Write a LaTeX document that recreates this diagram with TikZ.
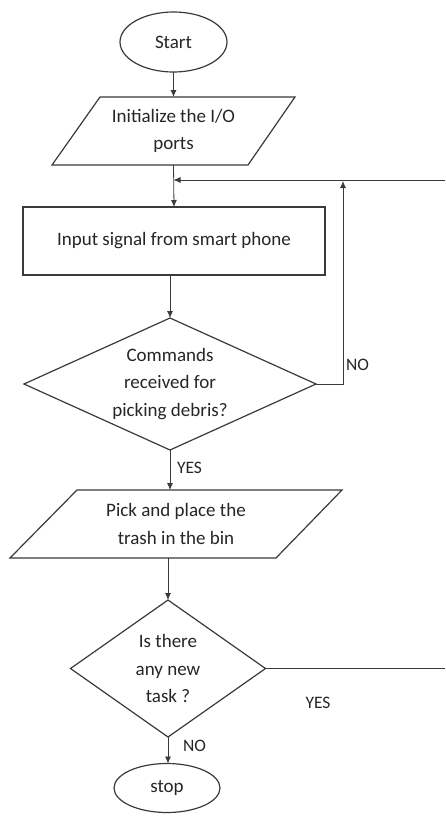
\documentclass[tikz,border=0pt]{standalone}
\usepackage{fontspec}
\setmainfont{Carlito}
\usetikzlibrary{shapes.geometric,arrows.meta}
\definecolor{ink}{HTML}{262626}
\definecolor{lineink}{HTML}{3A3A3A}
\tikzset{
  every node/.style={font=\fontsize{19}{27.5}\selectfont, text=ink, inner sep=0pt, outer sep=0pt},
  terminal/.style={ellipse, draw=lineink, line width=1.2pt},
  procbox/.style={rectangle, draw=lineink, line width=1.2pt},
  iobox/.style={rectangle, draw=none, align=center},
  decision/.style={rectangle, draw=none, align=center},
  shapeline/.style={draw=lineink, line width=1.2pt, line join=miter},
  flow/.style={draw=lineink, line width=0.8pt, -{Latex[length=7pt,width=6pt]}},
  plain/.style={draw=lineink, line width=0.8pt},
  lbl/.style={font=\fontsize{17.5}{20}\selectfont}
}
\begin{document}
\begin{tikzpicture}[x=1pt,y=-1pt]
\useasboundingbox[fill=white] (0,0) rectangle (445,816);

% Start
\node[terminal, minimum width=107pt, minimum height=60pt] (start) at (173.5,42) {Start};

% Parallelogram 1
\node[iobox, minimum width=195pt, minimum height=68pt] (p1) at (173.5,131) {Initialize the I/O\\ports};
\draw[shapeline] (100,97) -- (295,97) -- (248,165) -- (52,165) -- cycle;

% Process box
\node[procbox, minimum width=302pt, minimum height=68pt] (box) at (174,241) {Input signal from smart phone};

% Decision 1
\node[decision, minimum width=292pt, minimum height=132pt] (d1) at (170,384) {Commands\\received for\\picking debris?};
\draw[shapeline] (d1.north) -- (d1.east) -- (d1.south) -- (d1.west) -- cycle;

% Parallelogram 2
\node[iobox, minimum width=265pt, minimum height=68pt] (p2) at (176,524) {Pick and place the\\trash in the bin};
\draw[shapeline] (77,490) -- (342,490) -- (276,558) -- (10,558) -- cycle;

% Decision 2
\node[decision, minimum width=195pt, minimum height=137pt] (d2) at (168,668.5) {Is there\\any new\\task ?};
\draw[shapeline] (d2.north) -- (d2.east) -- (d2.south) -- (d2.west) -- cycle;

% Stop
\node[terminal, minimum width=106pt, minimum height=49pt] (stop) at (167,788) {stop};

% helper coordinates
\coordinate (j) at (173.5,180);
\coordinate (e1) at (445,180);
\coordinate (e2) at (445,668.5);
\coordinate (notop) at (343,181);

% connectors
\draw[flow] (start.south) -- (p1.north);
\draw[flow] (p1.south) -- (box.north);
\draw[flow] (box.south -| d1.north) -- (d1.north);
\draw[flow] (d1.south) -- (d1.south |- p2.north) node[pos=0.45, right=7pt, lbl] {YES};
\draw[flow] (d1.east) -| (notop);
\node[lbl, anchor=west] (nolbl) at (346,365) {NO};
\draw[flow] (e1) -- (j);
\draw[flow] (p2.south -| d2.north) -- (d2.north);
\draw[plain] (d2.east) -- (e2);
\node[lbl] (yes2) at (318,703) {YES};
\draw[flow] (d2.south) -- (d2.south |- stop.north) node[pos=0.35, right=15pt, lbl] {NO};
\end{tikzpicture}
\end{document}
